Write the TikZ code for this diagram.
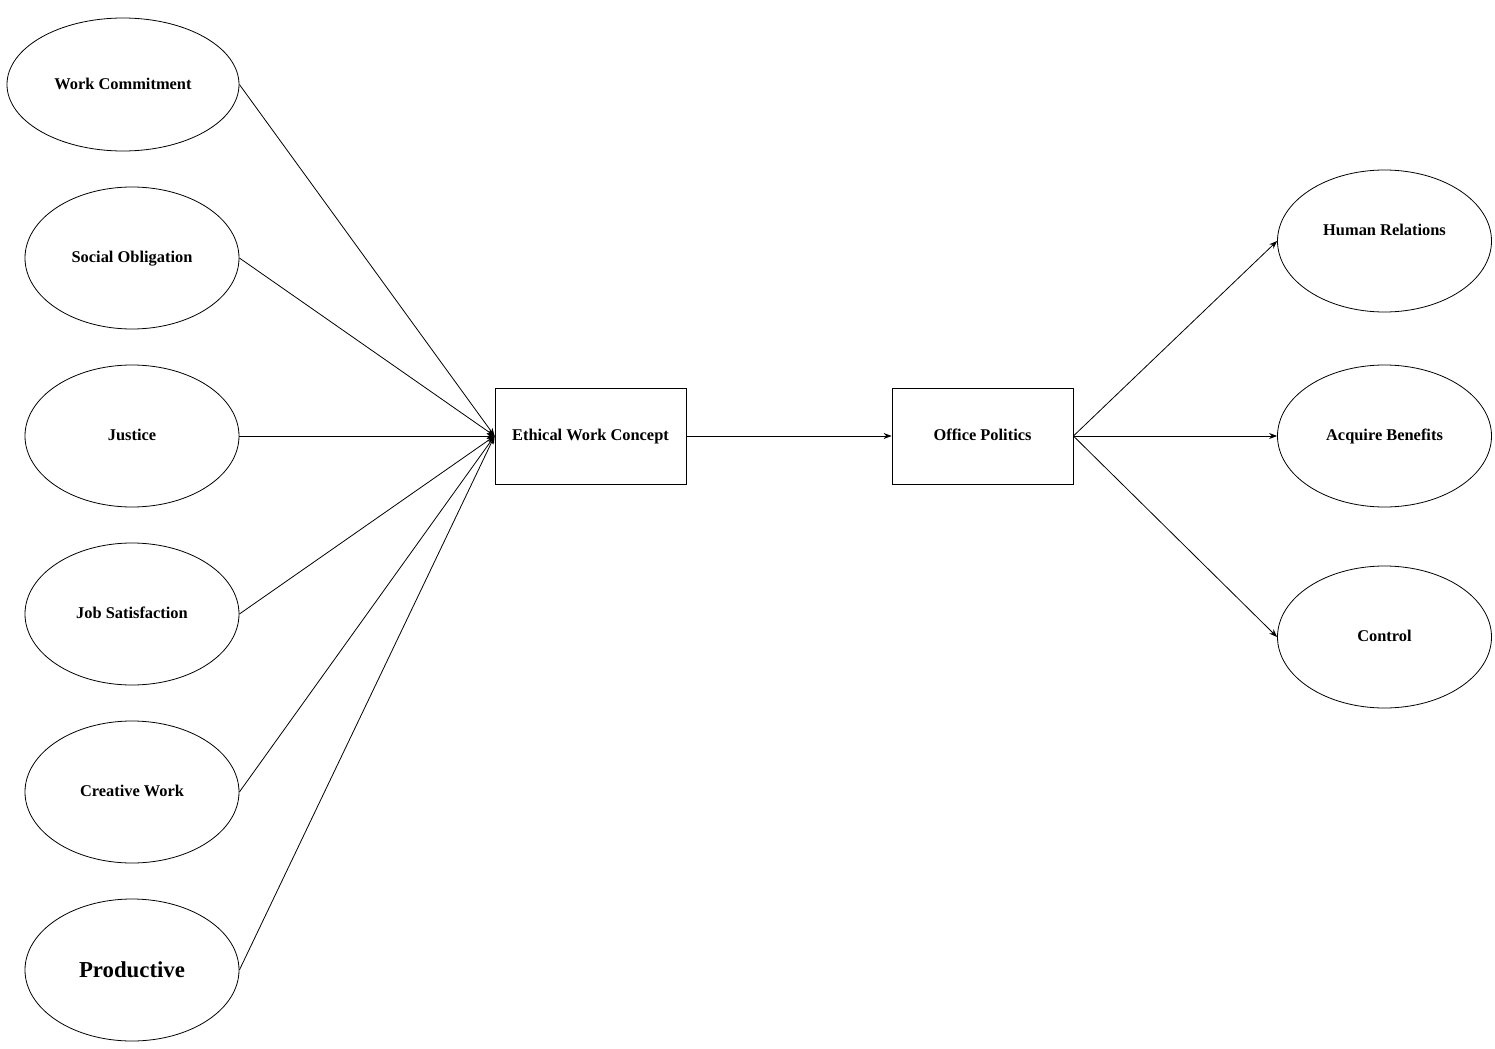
\documentclass[tikz,border=0pt]{standalone}
\usepackage{fontspec}
\setmainfont{Liberation Serif}
\usetikzlibrary{arrows.meta,positioning,shapes.geometric}

\begin{document}
\begin{tikzpicture}[x=0.5pt,y=-0.5pt,>={Stealth[length=4pt,width=3pt]},
    factor/.style={draw,ellipse,minimum width=107pt,minimum height=71pt,inner sep=0pt,
      text height=6.5pt,text depth=1.6pt,font=\bfseries\fontsize{8.2}{9}\selectfont},
    concept/.style={draw,rectangle,minimum height=48pt,inner sep=0pt,
      text height=6.5pt,text depth=1.6pt,font=\bfseries\fontsize{8.2}{9}\selectfont}]
    \useasboundingbox (0,0) rectangle (1495,1049);

    \node (WC) [factor,minimum width=116pt,minimum height=66.5pt] at (123,84.5) {Work Commitment};
    \node (SO) [factor] at (132,258) {Social Obligation};
    \node (J) [factor,below=17.6pt of SO] {Justice};
    \node (JS) [factor,below=17.6pt of J] {Job Satisfaction};
    \node (CW) [factor,below=17.6pt of JS] {Creative Work};
    \node (P) [factor,below=17.6pt of CW,text height=9.8pt,text depth=2.2pt,
      font=\bfseries\fontsize{11.4}{13}\selectfont] {Productive};

    \node (EWC) [concept,minimum width=95.5pt] at (590.5,436) {Ethical Work Concept};
    \node (OP) [concept,minimum width=90.5pt] at (982.5,436) {Office Politics};

    % label of this one sits above the centre
    \node (HR) [factor,text depth=11.6pt] at (1384.5,241) {Human Relations};
    \node (AB) [factor] at (1384.5,436) {Acquire Benefits};
    \node (C) [factor] at (1384.5,637) {Control};

    \foreach \src in {WC,SO,J,JS,CW,P}
      \draw[->] (\src.east) -- (EWC.west);

    \draw[->] (EWC) -- (OP);

    \foreach \dst in {HR,AB,C}
      \draw[->] (OP.east) -- (\dst.west);
  \end{tikzpicture}
\end{document}
